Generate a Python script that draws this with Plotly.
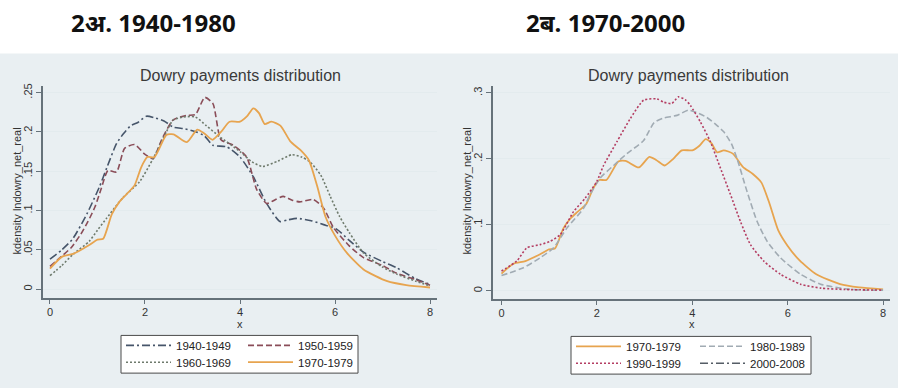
import plotly.graph_objects as go

# ---------------- data ----------------
x_1940 = [0, 0.25, 0.48, 0.78, 1.04, 1.2, 1.4, 1.55, 1.7, 1.85, 2.03, 2.2, 2.4, 2.6, 2.84, 3.08, 3.25, 3.43, 3.72, 4.0, 4.28, 4.56, 4.84, 5.0, 5.2, 5.5, 5.76, 6.04, 6.3, 6.6, 7.0, 7.3, 7.7, 8.0]
y_1940 = [0.038, 0.05, 0.064, 0.096, 0.13, 0.155, 0.185, 0.198, 0.208, 0.212, 0.220, 0.218, 0.214, 0.206, 0.204, 0.2, 0.195, 0.183, 0.181, 0.168, 0.143, 0.109, 0.086, 0.088, 0.09, 0.087, 0.082, 0.076, 0.062, 0.047, 0.035, 0.027, 0.013, 0.006]

x_1950 = [0, 0.25, 0.45, 0.65, 0.8, 0.95, 1.08, 1.22, 1.4, 1.57, 1.78, 1.99, 2.17, 2.35, 2.59, 2.87, 3.06, 3.26, 3.43, 3.6, 3.86, 4.14, 4.35, 4.56, 4.75, 4.91, 5.1, 5.26, 5.54, 5.76, 5.97, 6.3, 6.6, 7.0, 7.3, 7.7, 8.0]
y_1950 = [0.029, 0.042, 0.053, 0.07, 0.086, 0.105, 0.128, 0.151, 0.149, 0.179, 0.184, 0.172, 0.166, 0.19, 0.215, 0.221, 0.222, 0.244, 0.236, 0.19, 0.183, 0.168, 0.127, 0.109, 0.114, 0.118, 0.113, 0.111, 0.114, 0.103, 0.078, 0.055, 0.04, 0.03, 0.02, 0.012, 0.005]

x_1960 = [0, 0.25, 0.48, 0.83, 1.0, 1.19, 1.53, 1.89, 2.17, 2.45, 2.59, 2.8, 3.06, 3.29, 3.57, 4.0, 4.25, 4.48, 4.8, 5.09, 5.3, 5.47, 5.7, 5.9, 6.1, 6.3, 6.6, 7.0, 7.3, 7.7, 8.0]
y_1960 = [0.017, 0.03, 0.044, 0.061, 0.075, 0.09, 0.116, 0.137, 0.166, 0.2, 0.215, 0.219, 0.219, 0.208, 0.194, 0.175, 0.162, 0.156, 0.163, 0.171, 0.168, 0.162, 0.145, 0.118, 0.092, 0.072, 0.046, 0.028, 0.019, 0.01, 0.004]

x_1970 = [0, 0.25, 0.5, 0.8, 1.0, 1.12, 1.3, 1.45, 1.6, 1.78, 1.92, 2.05, 2.2, 2.45, 2.6, 2.88, 3.1, 3.25, 3.42, 3.6, 3.78, 4.0, 4.15, 4.28, 4.4, 4.52, 4.66, 4.85, 5.06, 5.27, 5.45, 5.62, 5.8, 6.0, 6.25, 6.6, 7.1, 7.5, 8.0]
y_1970 = [0.026, 0.041, 0.045, 0.055, 0.063, 0.064, 0.095, 0.11, 0.12, 0.132, 0.155, 0.168, 0.168, 0.196, 0.197, 0.187, 0.203, 0.198, 0.19, 0.2, 0.213, 0.213, 0.22, 0.23, 0.224, 0.21, 0.213, 0.208, 0.188, 0.177, 0.164, 0.132, 0.092, 0.068, 0.046, 0.025, 0.01, 0.005, 0.002]

x_1980 = [0, 0.46, 0.81, 1.09, 1.37, 1.72, 1.86, 2.07, 2.35, 2.63, 2.98, 3.2, 3.4, 3.68, 3.92, 4.1, 4.3, 4.48, 4.66, 4.82, 4.94, 5.15, 5.36, 5.57, 5.85, 6.27, 6.69, 7.2, 7.6, 8.0]
y_1980 = [0.023, 0.035, 0.05, 0.065, 0.095, 0.125, 0.146, 0.171, 0.19, 0.208, 0.228, 0.255, 0.262, 0.266, 0.274, 0.27, 0.263, 0.253, 0.241, 0.223, 0.2, 0.15, 0.105, 0.075, 0.05, 0.025, 0.01, 0.003, 0.001, 0.001]

x_1990 = [0, 0.32, 0.53, 0.81, 1.02, 1.23, 1.51, 1.75, 2.0, 2.14, 2.42, 2.7, 2.98, 3.26, 3.4, 3.57, 3.71, 3.85, 3.96, 4.17, 4.38, 4.59, 4.8, 5.01, 5.22, 5.5, 5.85, 6.27, 6.7, 7.2, 8.0]
y_1990 = [0.03, 0.045, 0.065, 0.07, 0.075, 0.085, 0.12, 0.14, 0.166, 0.19, 0.226, 0.261, 0.289, 0.291, 0.286, 0.284, 0.294, 0.29, 0.281, 0.256, 0.226, 0.186, 0.146, 0.105, 0.07, 0.045, 0.025, 0.01, 0.004, 0.002, 0.001]

# 2000-2008 is listed in the legend but its curve is not visible in the picture
x_2000 = [None]
y_2000 = [None]

x_ticks = [0, 2, 4, 6, 8]
y1_ticks = [0, 0.05, 0.1, 0.15, 0.2, 0.25]
y1_labels = ["0", ".05", ".1", ".15", ".2", ".25"]
y2_ticks = [0, 0.1, 0.2, 0.3]
y2_labels = ["0", ".1", ".2", ".3"]

header_left = "2अ. 1940-1980"
header_right = "2ब. 1970-2000"
sub_title = "Dowry payments distribution"
y_title = "kdensity lndowry_net_real"
x_title = "x"

# ---------------- figure ----------------
W, H = 898, 388
FONT = "Arial, Liberation Sans, sans-serif"
C1940 = "#46556a"
C1950 = "#8a4d58"
C1960 = "#6e7a6c"
C1970 = "#e7a44f"
C1980 = "#a1abb3"
C1990 = "#b43d62"
C2000 = "#555d66"


def px_x(p):
    return p / W


def px_y(p):
    return 1 - p / H


fig = go.Figure()


def add(x, y, name, color, dash, width, xa, ya, legend):
    fig.add_trace(go.Scatter(
        x=x, y=y, name=name, mode="lines",
        line=dict(color=color, dash=dash, width=width, shape="spline", smoothing=0.6),
        xaxis=xa, yaxis=ya, legend=legend, showlegend=True,
    ))


DASHDOT = "8px,3px,2px,3px"
DASH = "6px,3px"
DOT = "2px,2px"

add(x_1940, y_1940, "1940-1949", C1940, DASHDOT, 1.6, "x", "y", "legend")
add(x_1950, y_1950, "1950-1959", C1950, DASH, 1.6, "x", "y", "legend2")
add(x_1960, y_1960, "1960-1969", C1960, DOT, 1.6, "x", "y", "legend3")
add(x_1970, y_1970, "1970-1979", C1970, "solid", 1.8, "x", "y", "legend4")

add(x_1970, y_1970, "1970-1979", C1970, "solid", 1.8, "x2", "y2", "legend5")
add(x_1980, y_1980, "1980-1989", C1980, DASH, 1.6, "x2", "y2", "legend6")
add(x_1990, y_1990, "1990-1999", C1990, DOT, 1.6, "x2", "y2", "legend7")
add(x_2000, y_2000, "2000-2008", C2000, DASHDOT, 1.6, "x2", "y2", "legend8")

axis_common = dict(
    showline=True, linecolor="#66727a", linewidth=1.5, mirror=False,
    ticks="outside", ticklen=5, tickwidth=1.2, tickcolor="#66727a",
    tickfont=dict(family=FONT, size=11, color="#333333"), zeroline=False,
)

fig.update_layout(
    width=W, height=H,
    margin=dict(l=0, r=0, t=0, b=0),
    paper_bgcolor="white", plot_bgcolor="white",
    xaxis=dict(domain=[px_x(43), px_x(437)], range=[-0.147, 8.147], tickvals=x_ticks,
               showgrid=False, anchor="y", ticklabelstandoff=-2, **axis_common),
    yaxis=dict(domain=[px_y(297), px_y(84)], range=[-0.011, 0.258], tickvals=y1_ticks,
               ticktext=y1_labels, tickangle=-90, showgrid=True, gridcolor="#e3ebee",
               gridwidth=1, anchor="x", **axis_common),
    xaxis2=dict(domain=[px_x(493), px_x(890)], range=[-0.178, 8.145], tickvals=x_ticks,
                showgrid=False, anchor="y2", ticklabelstandoff=-2, **axis_common),
    yaxis2=dict(domain=[px_y(298), px_y(84)], range=[-0.012, 0.31], tickvals=y2_ticks,
                ticktext=y2_labels, tickangle=-90, showgrid=True, gridcolor="#e3ebee",
                gridwidth=1, anchor="x2", **axis_common),
    showlegend=True,
)

leg_common = dict(orientation="v", bgcolor="rgba(0,0,0,0)", borderwidth=0,
                  font=dict(family=FONT, size=11.5, color="#222222"),
                  itemwidth=45, xanchor="left", yanchor="middle", tracegroupgap=0,
                  xref="paper", yref="paper", itemclick=False, itemdoubleclick=False)
# (left edge px, row centre px) of each legend entry
leg_pos = [(121, 345), (243, 345), (121, 362), (243, 362),
           (571, 346), (695, 346), (571, 363), (695, 363)]
for i, (lx, ly) in enumerate(leg_pos):
    key = "legend" if i == 0 else "legend%d" % (i + 1)
    fig.update_layout({key: dict(x=px_x(lx), y=px_y(ly), **leg_common)})

shapes = [
    # Stata graph region background
    dict(type="rect", xref="paper", yref="paper", x0=0, x1=1, y0=0, y1=px_y(51),
         fillcolor="#e9eff2", line=dict(width=0), layer="below"),
    # legend boxes
    dict(type="rect", xref="paper", yref="paper", x0=px_x(121), x1=px_x(358),
         y0=px_y(373), y1=px_y(335), fillcolor="white", line=dict(color="#4a4a4a", width=1),
         layer="above"),
    dict(type="rect", xref="paper", yref="paper", x0=px_x(571), x1=px_x(811),
         y0=px_y(374), y1=px_y(336), fillcolor="white", line=dict(color="#4a4a4a", width=1),
         layer="above"),
]
fig.update_layout(shapes=shapes)


def note(text, cx, cy, size, family=FONT, color="#333333", angle=0):
    return dict(text=text, x=px_x(cx), y=px_y(cy), xref="paper", yref="paper",
                xanchor="center", yanchor="middle", textangle=angle, showarrow=False,
                font=dict(family=family, size=size, color=color))


HFONT = "Open Sans, Noto Sans, sans-serif"
ann = [
    note("<b>%s</b>" % header_left, 153, 20, 24, HFONT, "#111111"),
    note("<b>%s</b>" % header_right, 605, 20, 24, HFONT, "#111111"),
    note(sub_title, 240, 73, 16, color="#3a3a3a"),
    note(sub_title, 688, 73, 16, color="#3a3a3a"),
    note(y_title, 17, 190, 11, angle=-90),
    note(y_title, 467, 190, 11, angle=-90),
    note(x_title, 240, 323, 11),
    note(x_title, 692, 323, 11),
]
fig.update_layout(annotations=ann)

fig.write_html(
    "out.html",
    config={"displayModeBar": False},
    post_script="document.body.style.margin='0';document.body.style.overflow='hidden';",
)
